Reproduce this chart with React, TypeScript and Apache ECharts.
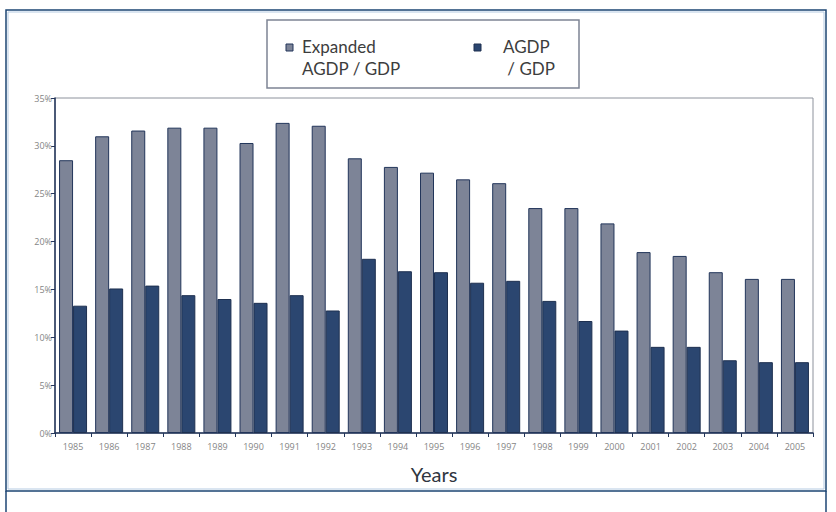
import React, { useEffect, useRef } from "react";
import * as echarts from "echarts";

const years = ["1985","1986","1987","1988","1989","1990","1991","1992","1993","1994","1995","1996","1997","1998","1999","2000","2001","2002","2003","2004","2005"];
const expandedAgdp = [28.5, 31.0, 31.6, 31.9, 31.9, 30.3, 32.4, 32.1, 28.7, 27.8, 27.2, 26.5, 26.1, 23.5, 23.5, 21.9, 18.9, 18.5, 16.8, 16.1, 16.1];
const agdp = [13.3, 15.1, 15.4, 14.4, 14.0, 13.6, 14.4, 12.8, 18.2, 16.9, 16.8, 15.7, 15.9, 13.8, 11.7, 10.7, 9.0, 9.0, 7.6, 7.4, 7.4];
const seriesNames = ["Expanded AGDP / GDP", "AGDP / GDP"];
const legendLines = [["Expanded", "AGDP / GDP"], ["AGDP", " / GDP"]];
const axisTitle = "Years";

const GRAY = "#7d8497";
const NAVY = "#2b4670";
const EDGE = "#22355a";

export default function App() {
  const ref = useRef<HTMLDivElement>(null);
  useEffect(() => {
    if (!ref.current) return;
    const chart = echarts.init(ref.current, null, { renderer: "svg" });
    const legendFont = "Lato, 'Open Sans', sans-serif";
    const tickFont = "'Open Sans', 'Liberation Sans', sans-serif";
    chart.setOption({
      animation: false,
      backgroundColor: "#ffffff",
      grid: { left: 55, top: 98, right: 23, bottom: 79, show: true, borderColor: "#8d929c", borderWidth: 1 },
      legend: { show: false },
      xAxis: {
        type: "category",
        data: years,
        name: axisTitle,
        nameLocation: "middle",
        nameGap: 31,
        nameTextStyle: { fontSize: 20, color: "#2f3640", fontFamily: legendFont },
        axisLine: { lineStyle: { color: EDGE, width: 1.5 } },
        axisTick: { show: true, length: 4, lineStyle: { color: EDGE } },
        axisLabel: { fontSize: 9, color: "#858585", margin: 9, fontFamily: tickFont },
      },
      yAxis: {
        type: "value",
        min: 0,
        max: 35,
        interval: 5,
        splitLine: { show: false },
        axisLine: { show: true, lineStyle: { color: EDGE, width: 1.5 } },
        axisTick: { show: true, length: 4, lineStyle: { color: EDGE } },
        axisLabel: { formatter: "{value}%", fontSize: 9, color: "#858585", margin: 3, fontFamily: tickFont },
      },
      series: [
        {
          name: seriesNames[0],
          type: "bar",
          data: expandedAgdp,
          barWidth: 14,
          barGap: "0%",
          itemStyle: { color: GRAY, borderColor: EDGE, borderWidth: 1 },
        },
        {
          name: seriesNames[1],
          type: "bar",
          data: agdp,
          barWidth: 14,
          barGap: "0%",
          itemStyle: { color: NAVY, borderColor: "#1e3050", borderWidth: 1 },
        },
      ],
      graphic: [
        { type: "rect", shape: { x: 6, y: 10, width: 820, height: 481 }, style: { fill: "none", stroke: "#1d4573", lineWidth: 1.5 }, silent: true },
        { type: "rect", shape: { x: 8, y: 12, width: 816, height: 477 }, style: { fill: "none", stroke: "#b5cbe2", lineWidth: 1 }, silent: true },
        { type: "line", shape: { x1: 6, y1: 491, x2: 6, y2: 512 }, style: { stroke: "#1d4573", lineWidth: 1.5 } },
        { type: "line", shape: { x1: 826, y1: 491, x2: 826, y2: 512 }, style: { stroke: "#1d4573", lineWidth: 1.5 } },
        { type: "rect", shape: { x: 267, y: 20, width: 312, height: 68 }, style: { fill: "#ffffff", stroke: "#7d8494", lineWidth: 1.5 } },
        { type: "rect", shape: { x: 286, y: 44, width: 7, height: 7 }, style: { fill: GRAY, stroke: EDGE, lineWidth: 1 } },
        { type: "rect", shape: { x: 474, y: 44, width: 7, height: 7 }, style: { fill: NAVY, stroke: "#1e3050", lineWidth: 1 } },
        { type: "text", x: 302, y: 35, style: { text: legendLines[0].join("\n"), font: `17px ${legendFont}`, fill: "#3d3d3d", lineHeight: 22 } },
        { type: "text", x: 503, y: 35, style: { text: legendLines[1].join("\n"), font: `17px ${legendFont}`, fill: "#3d3d3d", lineHeight: 22 } },
      ],
    });
    return () => chart.dispose();
  }, []);
  return <div ref={ref} style={{ position: "fixed", left: 0, top: 0, width: 836, height: 512 }} />;
}
